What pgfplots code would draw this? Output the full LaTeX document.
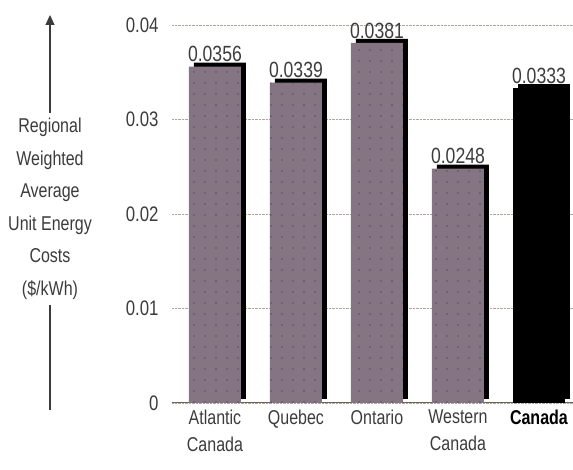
\documentclass[border=0pt]{standalone}
\usepackage{pgfplots}
\usepackage{pgfplotstable}
\pgfplotsset{compat=1.18}
\usepackage{fontspec}
\setmainfont{Liberation Sans}[FakeStretch=0.8]
\usetikzlibrary{patterns.meta,shadows,calc,arrows.meta}
\definecolor{barcol}{RGB}{133,116,130}
\definecolor{dotcol}{RGB}{70,90,110}
\definecolor{txt}{RGB}{60,60,60}
\definecolor{gridc}{RGB}{175,165,155}
\pgfdeclarepattern{name=sparsedots, type=uncolored,
  bottom left={\pgfpoint{0pt}{0pt}}, top right={\pgfpoint{10.5pt}{10.5pt}},
  tile size={\pgfpoint{10.5pt}{10.5pt}},
  code={\pgfpathcircle{\pgfpoint{5.25pt}{5.25pt}}{0.9pt}\pgfusepath{fill}}}
\pgfplotstableread{
x y
0 0.0356
1 0.0339
2 0.0381
3 0.0248
}\regions
\pgfplotstableread{
x y
4 0.0333
}\canada
\begin{document}
\begin{tikzpicture}
\begin{axis}[
 scale only axis, width=401pt, height=378pt,
 ymin=0, ymax=0.04, xmin=-0.53, xmax=4.42,
 ytick={0,0.01,0.02,0.03,0.04},
 xtick={0,1,2,3,4},
 xticklabels={{Atlantic\\Canada},Quebec,Ontario,{Western\\Canada},\textcolor{black}{\textbf{Canada}}},
 ymajorgrids, grid style={densely dotted, gridc, line width=0.8pt},
 axis x line*=bottom, axis y line*=left,
 y axis line style={draw=none},
 x axis line style={-, gridc!60!black, line width=1pt},
 major tick length=0pt,
 /pgf/number format/assume math mode=true,
 scaled y ticks=false,
 yticklabel style={/pgf/number format/fixed, /pgf/number format/precision=2, font=\fontsize{21}{21}\selectfont, text=txt, xshift=-10pt},
 xticklabel style={align=center, font=\fontsize{20}{27}\selectfont, text=txt, yshift=-3pt},
 clip=false,
 ybar, bar width=52pt, bar shift=0pt,
 nodes near coords,
 nodes near coords style={/pgf/number format/fixed, /pgf/number format/precision=4, /pgf/number format/fixed zerofill, font=\fontsize{22}{22}\selectfont, text=txt, yshift=1pt},
]
\addplot[fill=barcol, draw=none,
  drop shadow={shadow xshift=5pt, shadow yshift=4pt, opacity=1, fill=black},
  postaction={pattern=sparsedots, pattern color=dotcol}] table {\regions};
\addplot[fill=black, draw=none,
  drop shadow={shadow xshift=5pt, shadow yshift=4pt, opacity=1, fill=black}] table {\canada};
\end{axis}
\draw[txt, line width=1.2pt, -{Triangle[length=10pt,width=9pt]}] ($(current axis.south west)+(-122pt,-7pt)$) -- ($(current axis.south west)+(-122pt,388pt)$);
\node[fill=white, align=center, font=\fontsize{20}{32.5}\selectfont, text=txt, inner sep=5pt] at ($(current axis.south west)+(-122pt,194pt)$) {Regional\\Weighted\\Average\\Unit Energy\\Costs\\(\$/kWh)};
\pgfresetboundingbox
\path[use as bounding box] ($(current axis.south west)+(-172pt,-67pt)$) rectangle ($(current axis.north east)+(0pt,25pt)$);
\end{tikzpicture}
\end{document}
